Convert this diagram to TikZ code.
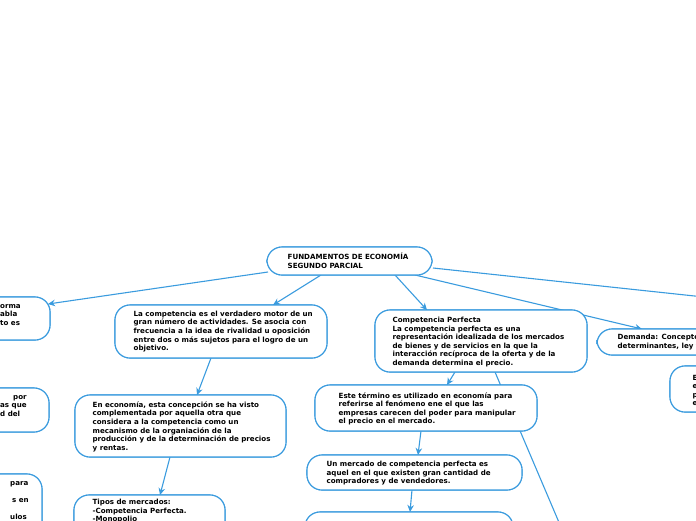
\documentclass[tikz,border=0pt]{standalone}
\usepackage{fontspec}
\setmainfont{DejaVu Sans}
\usetikzlibrary{arrows.meta,calc}
\definecolor{bblue}{RGB}{58,155,222}
\tikzset{
  box/.style={draw=bblue, line width=1.1pt, rounded corners=15pt, fill=white, inner sep=0pt},
  txt/.style={align=left, inner sep=0pt, text=black, font=\bfseries\fontsize{7.1}{8.6}\selectfont},
  arr/.style={draw=bblue, line width=1.1pt, -{Stealth[length=7pt,width=6.5pt]}},
  ln/.style={draw=bblue, line width=1.1pt}
}
\begin{document}
\begin{tikzpicture}[x=1pt,y=-1pt]
\useasboundingbox (0,0) rectangle (696,520);
\clip (0,0) rectangle (696,520);
\coordinate (R) at (760,303);
\coordinate (Dn) at (575,560);
% boxes
\node[box, minimum width=165pt, minimum height=28pt] (root) at (349.5,261) {};
\node[box, minimum width=200pt, minimum height=43pt] (A) at (-50,318.5) {};
\node[box, minimum width=212pt, minimum height=53pt] (B) at (221,331.5) {};
\node[box, minimum width=212pt, minimum height=62pt] (D) at (481,341) {};
\node[box, minimum width=213pt, minimum height=26pt] (E) at (703.5,342) {};
\node[box, minimum width=200pt, minimum height=44pt] (F) at (-51,410) {};
\node[box, minimum width=211pt, minimum height=62pt] (G) at (180.5,426) {};
\node[box, minimum width=222pt, minimum height=46pt] (H) at (426,408) {};
\node[box, minimum width=210pt, minimum height=46pt] (I) at (775,389) {};
\node[box, minimum width=215pt, minimum height=35pt] (L) at (414.5,472.5) {};
\node[box, minimum width=192pt, minimum height=86pt] (J) at (-54,517) {};
\node[box, minimum width=151pt, minimum height=64pt] (K) at (149.5,527) {};
\node[box, minimum width=208pt, minimum height=50pt] (M) at (409,537) {};

% connectors
\draw[arr] ($(root)+(-81.5,11)$) -- ($(A)+(98,-14.5)$);
\draw[arr] ($(root)+(-28.5,14)$) -- ($(B)+(52,-26.5)$);
\draw[arr] ($(root)+(45.5,14)$) -- ($(D)+(-54,-31)$);
\draw[arr] ($(root)+(65.5,14)$) -- ($(E)+(-61.5,-13)$);
\draw[ln] ($(root)+(83.5,7)$) -- (R);
\draw[arr] ($(B)+(-10,26.5)$) -- ($(G)+(16.5,-31)$);
\draw[arr] ($(G)+(-10.5,31)$) -- ($(K)+(10.5,-32)$);
\draw[arr] ($(D)+(-26,31)$) -- ($(H)+(21,-23)$);
\draw[ln] ($(D)+(14,31)$) -- (Dn);
\draw[arr] ($(H)+(-5,23)$) -- ($(L)+(3.5,-17.5)$);
\draw[arr] ($(L)+(-2.5,17.5)$) -- ($(M)+(1,-25)$);

% redraw boxes over the connectors
\foreach \n/\w/\h in {root/165/28, A/200/43, B/212/53, D/212/62, E/213/26, F/200/44, G/211/62, H/222/46, I/210/46, L/215/35, J/192/86, K/151/64, M/208/50}
  \node[box, minimum width=\w pt, minimum height=\h pt] at (\n) {};

% texts
\node[txt, anchor=west] (roott) at ($(root.west)+(21,0)$) {FUNDAMENTOS DE ECONOMÍA\\SEGUNDO PARCIAL};
\node[txt, anchor=west] (At) at (0,315) {orma\\abla\\to es};
\node[txt, anchor=west] (Bt) at ($(B.west)+(19,0)$) {La competencia es el verdadero motor de un\\gran número de actividades. Se asocia con\\frecuencia a la idea de rivalidad u oposición\\entre dos o más sujetos para el logro de un\\objetivo.};
\node[txt, anchor=west] (Dt) at ($(D.west)+(18,1)$) {Competencia Perfecta\\La competencia perfecta es una\\representación idealizada de los mercados\\de bienes y de servicios en la que la\\interacción recíproca de la oferta y de la\\demanda determina el precio.};
\node[txt, anchor=west] (Et) at ($(E.west)+(21,0)$) {Demanda: Concepto\\determinantes, ley y};
\node[txt, anchor=west] (Ft) at (0,406) {\hspace*{13pt}por\\as que\\d del};
\node[txt, anchor=west] (Gt) at ($(G.west)+(18,0.7)$) {En economía, esta concepción se ha visto\\complementada por aquella otra que\\considera a la competencia como un\\mecanismo de la organiación de la\\producción y de la determinación de precios\\y rentas.};
\node[txt, anchor=west] (Ht) at ($(H.west)+(24,0.8)$) {Este término es utilizado en economía para\\referirse al fenómeno ene el que las\\empresas carecen del poder para manipular\\el precio en el mercado.};
\node[txt, anchor=west] (It) at ($(I.west)+(23,1.5)$) {E\\e\\p\\e};
\node[txt, anchor=west] (Lt) at ($(L.west)+(20,0.8)$) {Un mercado de competencia perfecta es\\aquel en el que existen gran cantidad de\\compradores y de vendedores.};
\node[txt, anchor=north west] (Jt) at (0,481) {\hspace*{10pt}para\\[8.6pt]\hspace*{12pt}s en\\[8.6pt]\hspace*{10pt}ulos};
\node[txt, anchor=north west] (Kt) at ($(K.north west)+(19,4.5)$) {Tipos de mercados:\\-Competencia Perfecta.\\-Monopolio};
\end{tikzpicture}
\end{document}
